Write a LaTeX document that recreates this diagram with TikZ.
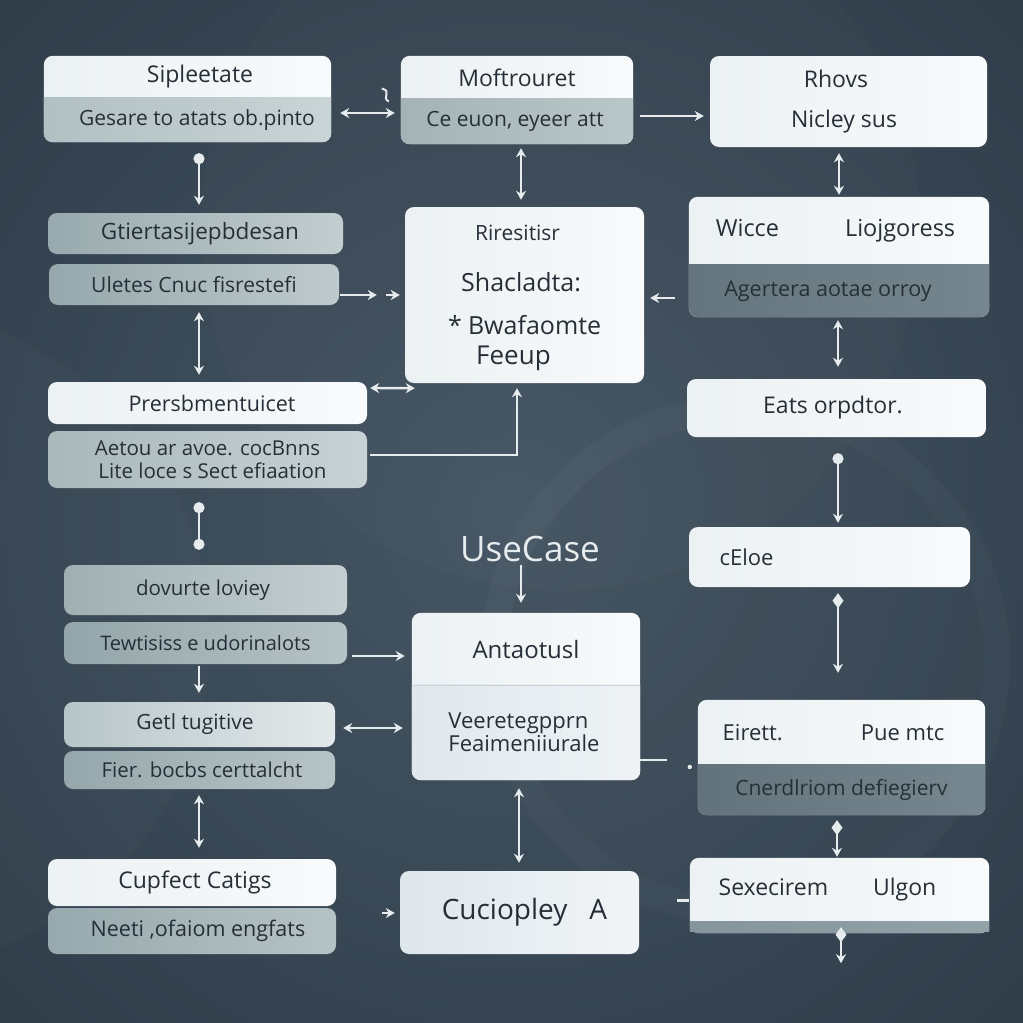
\documentclass[tikz,border=0pt]{standalone}
\usepackage{fontspec}
\setmainfont{Open Sans}
\usetikzlibrary{arrows.meta,calc,backgrounds}
\definecolor{bgc}{HTML}{465664}
\definecolor{bge}{HTML}{2E3C48}
\definecolor{txt}{HTML}{262F37}
\definecolor{lnk}{HTML}{E6EBEE}
\definecolor{wa}{HTML}{ECF1F3}
\definecolor{wb}{HTML}{F8FAFB}
\definecolor{a2l}{HTML}{B1C0C3}
\definecolor{a2r}{HTML}{C9D4D6}
\newcommand\partfill[4]{%
  \begin{scope}[on background layer]
    \path[#3, rounded corners=9pt] (#1.north west) rectangle (#2.south east);
    \path[#4, rounded corners=9pt] (#2.north west) rectangle (#2.south east);
    \path[#4] (#2.north west) rectangle ($(#2.north east)+(0,10)$);
  \end{scope}}
\newcommand\fs[1]{\fontsize{#1}{1.2\dimexpr#1pt\relax}\selectfont}
\begin{document}
\begin{tikzpicture}[x=1pt,y=-1pt,
  part/.style={inner sep=0pt, text=txt, font=\fs{21}},
  box/.style={part, rounded corners=9pt},
  wfill/.style={left color=wa, right color=wb},
  conn/.style={draw=lnk, line width=2.4pt},
  ar/.style={conn, arrows={-Stealth[length=9pt,width=10pt]}},
  dar/.style={conn, arrows={Stealth[length=9pt,width=10pt]-Stealth[length=9pt,width=10pt]}},
  dmar/.style={conn, arrows={Diamond[length=15pt,width=11pt]-Stealth[length=9pt,width=10pt]}},
  dotar/.style={conn, arrows={Circle[length=11pt]-Stealth[length=9pt,width=10pt]}},
  dotdot/.style={conn, arrows={Circle[length=11pt]-Circle[length=11pt]}},
  lone/.style={text=txt, inner sep=0pt}]
\useasboundingbox (0,0) rectangle (1023,1023);
\begin{scope}[on background layer]
  \fill[bge] (0,0) rectangle (1023,1023);
  \shade[inner color=bgc, outer color=bge] (-250,-250) rectangle (1273,1273);
  \fill[white, opacity=0.025] (745,660) circle (265pt);
  \fill[bge, opacity=0.15] (745,660) circle (238pt);
  \fill[white, opacity=0.02] (-120,640) circle (330pt);
  \fill[white, opacity=0.015] (560,230) circle (360pt);
\end{scope}

% ---------- left column ----------
\node[part, font=\fs{23}, minimum width=287pt, minimum height=42pt] (a1) at (187.5,77) {\hspace*{25pt}Sipleetate};
\node[part, minimum width=287pt, minimum height=44pt] (a2) at (187.5,120) {\hspace*{19pt}Gesare to atats ob.pinto};
\partfill{a1}{a2}{wfill}{left color=a2l, right color=a2r}

\node[box, font=\fs{22.5}, left color={rgb,255:red,152;green,170;blue,174}, right color={rgb,255:red,194;green,205;blue,207},
      minimum width=295pt, minimum height=41pt] (b1) at (195.5,233.5) {\hspace*{9pt}Gtiertasijepbdesan};
\node[box, left color={rgb,255:red,150;green,168;blue,172}, right color={rgb,255:red,190;green,202;blue,205},
      minimum width=290pt, minimum height=41pt] (b2) at (194,284.5) {Uletes Cnuc fisrestefi};
\node[box, font=\fs{21.5}, wfill, minimum width=319pt, minimum height=42pt] (c1) at (207.5,403) {\hspace*{9pt}Prersbmentuicet};
\node[box, left color={rgb,255:red,168;green,184;blue,187}, right color={rgb,255:red,200;green,210;blue,212},
      minimum width=319pt, minimum height=57pt, align=center, font=\fontsize{20.5}{23}\selectfont] (c2) at (207.5,459.5)
      {Aetou ar avoe. cocBnns\\\hspace*{10pt}Lite loce s Sect efiaation};
\node[box, font=\fs{20.5}, left color={rgb,255:red,159;green,176;blue,179}, right color={rgb,255:red,195;green,206;blue,208},
      minimum width=283pt, minimum height=50pt] (d1) at (205.5,590) {dovurte loviey\hspace*{5pt}};
\node[box, font=\fs{20}, left color={rgb,255:red,147;green,165;blue,169}, right color={rgb,255:red,182;green,195;blue,198},
      minimum width=283pt, minimum height=42pt] (d2) at (205.5,643) {Tewtisiss e udorinalots};
\node[box, font=\fs{21}, left color={rgb,255:red,183;green,197;blue,200}, right color={rgb,255:red,227;green,233;blue,235},
      minimum width=271pt, minimum height=45pt] (e1) at (199.5,724.5) {Getl tugitive\hspace*{9pt}};
\node[box, font=\fs{20.5}, left color={rgb,255:red,149;green,167;blue,171}, right color={rgb,255:red,183;green,196;blue,199},
      minimum width=271pt, minimum height=38pt] (e2) at (199.5,770) {\hspace*{5pt}Fier. bocbs certtalcht};
\node[box, font=\fs{23}, wfill, minimum width=288pt, minimum height=47pt] (f1) at (192,882.5) {\hspace*{6pt}Cupfect Catigs};
\node[box, font=\fs{21.5}, left color={rgb,255:red,151;green,169;blue,173}, right color={rgb,255:red,182;green,195;blue,198},
      minimum width=288pt, minimum height=46pt] (f2) at (192,931) {\hspace*{12pt}Neeti ,ofaiom engfats};

% ---------- middle column ----------
\node[part, font=\fs{23}, minimum width=232pt, minimum height=43pt] (g1) at (517,77.5) {Moftrouret};
\node[part, font=\fs{21}, minimum width=232pt, minimum height=45pt] (g2) at (517,121.5) {Ce euon, eyeer att\hspace*{4pt}};
\partfill{g1}{g2}{wfill}{left color={rgb,255:red,163;green,179;blue,182}, right color={rgb,255:red,186;green,199;blue,201}}

\node[box, wfill, minimum width=239pt, minimum height=176pt] (i) at (524.5,295) {};
\node[lone, anchor=west, font=\fs{21}] (i1) at (475,233) {Riresitisr};
\node[lone, anchor=west, font=\fs{25}] (i2) at (461,282) {Shacladta:};
\node[lone, anchor=west, font=\fs{25}] (i3) at (448,325) {*\hspace{6pt}Bwafaomte};
\node[lone, anchor=west, font=\fs{26}] (i4) at (476,358) {Feeup};

\node[lone, font=\fs{35}, text=lnk] (uc) at (530,549) {UseCase};

\node[part, font=\fs{24}, minimum width=228pt, minimum height=72pt] (l1) at (526,649) {Antaotusl};
\node[part, minimum width=228pt, minimum height=95pt, align=left, font=\fontsize{22}{23}\selectfont] (l2) at (526,732.5)
      {Veeretegpprn\\Feaimeniiurale\hspace*{4pt}};
\partfill{l1}{l2}{wfill}{left color={rgb,255:red,224;green,232;blue,237}, right color={rgb,255:red,238;green,242;blue,245}}
\draw[line width=0.8pt, draw={rgb,255:red,200;green,210;blue,216}] (l1.south west) -- (l1.south east);

\node[box, left color={rgb,255:red,222;green,231;blue,236}, right color={rgb,255:red,241;green,244;blue,246},
      minimum width=239pt, minimum height=83pt, font=\fs{28}] (m) at (519.5,912.5)
      {\hspace*{10pt}Cuciopley\hspace{22pt}A};

% ---------- right column ----------
\node[box, wfill, minimum width=277pt, minimum height=91pt, align=center, font=\fontsize{23}{40}\selectfont] (h) at (848.5,101.5)
      {Rhovs\hspace*{25pt}\\Nicley sus\hspace*{9pt}};
\node[part, font=\fs{23.5}, minimum width=300pt, minimum height=68pt] (j1) at (839,231) {Wicce\hspace{66pt}Liojgoress\hspace*{7pt}};
\node[part, font=\fs{21.5}, minimum width=300pt, minimum height=52pt] (j2) at (839,291) {Agertera aotae orroy\hspace*{22pt}};
\partfill{j1}{j2}{wfill}{left color={rgb,255:red,100;green,117;blue,126}, right color={rgb,255:red,118;green,134;blue,142}}
\node[box, wfill, minimum width=299pt, minimum height=58pt, font=\fs{23}] (k) at (836.5,408) {Eats orpdtor.\hspace*{7pt}};
\node[box, wfill, minimum width=281pt, minimum height=60pt, font=\fs{22}] (n) at (829.5,557) {cEloe\hspace*{166pt}};
\node[part, font=\fs{22}, minimum width=287pt, minimum height=65pt] (o1) at (841.5,732.5) {Eirett.\hspace{78pt}Pue mtc\hspace*{16pt}};
\node[part, font=\fs{21}, minimum width=287pt, minimum height=50pt] (o2) at (841.5,790) {Cnerdlriom defiegierv};
\partfill{o1}{o2}{wfill}{left color={rgb,255:red,98;green,115;blue,124}, right color={rgb,255:red,119;green,135;blue,143}}
\node[part, font=\fs{23}, minimum width=299pt, minimum height=64pt] (p1) at (839.5,890) {Sexecirem\hspace{45pt}Ulgon\hspace*{24pt}};
\node[part, minimum width=299pt, minimum height=11pt] (p2) at (839.5,927.5) {};
\partfill{p1}{p2}{wfill}{left color={rgb,255:red,132;green,149;blue,156}, right color={rgb,255:red,146;green,162;blue,168}}

% ---------- connectors ----------
\draw[dar] ($(a2.east)+(9,-7)$) -- ($(g2.west)+(-6,-8.5)$);
\draw[conn, line width=2pt] ($(g2.west)+(-19,-33)$) .. controls ($(g2.west)+(-8,-30)$) and ($(g2.west)+(-20,-24)$) .. ($(g2.west)+(-12,-20)$);
\draw[ar] ($(g2.east)+(7,-5.5)$) -- ($(h.west)+(-6,14.5)$);
\draw[dotar] ($(a2.south)+(11.5,11)$) -- ($(b1.north)+(3.5,-8)$);
\draw[dar] ($(g2.south)+(4,4)$) -- ($(i.north)+(-3.5,-7)$);
\draw[dar] ($(h.south)+(-9.5,6)$) -- ($(j1.north)+(0,-2)$);
\draw[ar] ($(b2.east)+(1,10.5)$) -- ($(i.west)+(-28,0)$);
\draw[ar] ($(i.west)+(-19,0)$) -- ($(i.west)+(-5,0)$);
\draw[ar] ($(j2.west)+(-14,7)$) -- ($(i.east)+(6,3)$);
\draw[dar] ($(b2.south)+(5,7)$) -- ($(c1.north)+(-8.5,-7)$);
\draw[dar] ($(c1.east)+(3,-15)$) -- ($(i.south west)+(10,5)$);
\draw[ar] ($(c2.east)+(3,-4.5)$) -| ($(i.south)+(-7.5,5)$);
\draw[dar] ($(j2.south)+(-1,3)$) -- ($(k.north)+(1.5,-12)$);
\draw[dotdot] ($(c2.south)+(-8.5,14)$) -- ($(d1.north)+(-6.5,-15)$);
\draw[dotar] ($(k.south)+(1.5,16)$) -- ($(n.north)+(8.5,-4)$);
\draw[ar] ($(uc.south)+(-9,3)$) -- ($(l1.north)+(-5,-10)$);
\draw[ar] ($(d2.east)+(5,13)$) -- ($(l1.west)+(-7,7)$);
\draw[ar] ($(d2.south)+(-6.5,2)$) -- ($(e1.north)+(-0.5,-9)$);
\draw[dar] ($(e1.east)+(8,3.5)$) -- ($(l2.west)+(-9,-4.5)$);
\draw[conn] ($(l2.east)+(0,27.5)$) -- ($(l2.east)+(27,27.5)$);
\fill[lnk] ($(o1.west)+(-8,34.5)$) circle (2.2pt);
\draw[dmar] ($(n.south)+(8.5,6)$) -- ($(o1.north)+(-3.5,-27)$);
\draw[dar] ($(e2.south)+(-0.5,6)$) -- ($(f1.north)+(7,-11)$);
\draw[dar] ($(l2.south)+(-7,8)$) -- ($(m.north)+(-0.5,-8)$);
\draw[ar] ($(m.west)+(-18,0.5)$) -- ($(m.west)+(-5,0.5)$);
\draw[dmar] ($(o2.south)+(-4.5,5)$) -- ($(p1.north)+(-2.5,-1)$);
\draw[conn, line width=3pt] ($(p1.west)+(-13,10)$) -- ($(p1.west)+(-1,10)$);
\coordinate (pend) at ($(p2.south)+(1.5,30)$);
\draw[dmar] ($(p2.south)+(1.5,-6)$) -- (pend);
\end{tikzpicture}
\end{document}
